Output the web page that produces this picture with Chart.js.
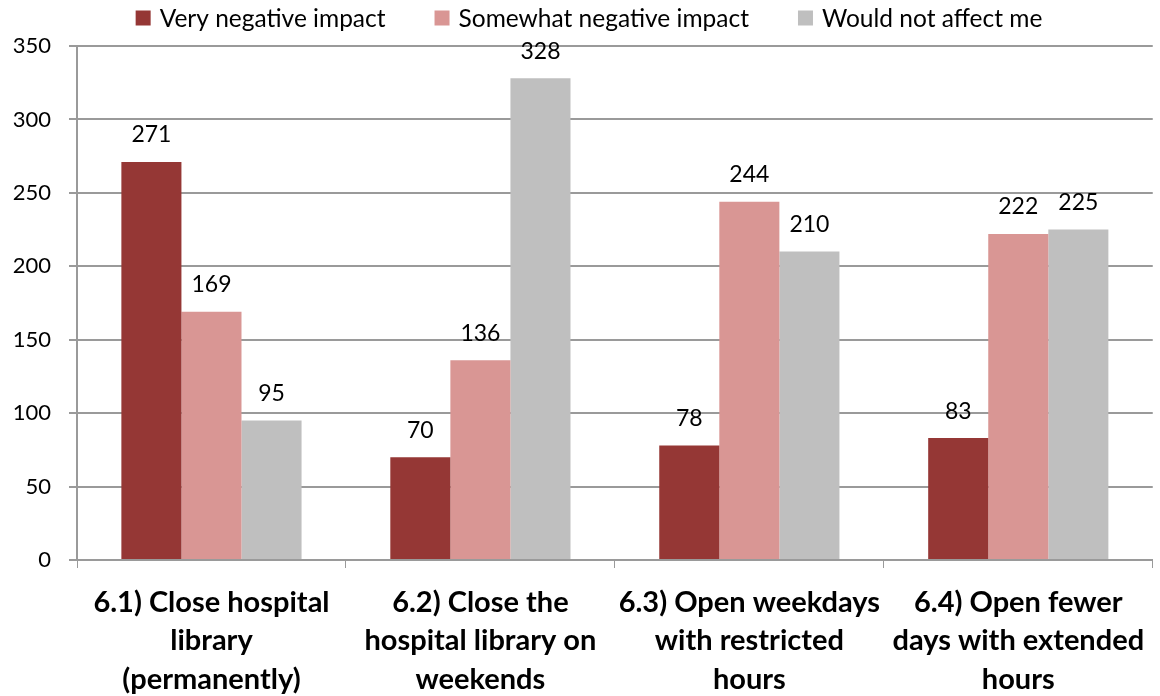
<!DOCTYPE html>
<html>
<head>
<meta charset="utf-8">
<script src="https://cdn.jsdelivr.net/npm/chart.js@4"></script>
<style>
  html, body { margin: 0; padding: 0; background: #fff; }
  #wrap { width: 1160px; height: 696px; }
</style>
</head>
<body>
<div id="wrap"><canvas id="impactChart" width="1160" height="696"></canvas></div>
<script>
/* ─── Data ─────────────────────────────────────── */
const categories = [
  ['6.1) Close hospital', 'library', '(permanently)'],
  ['6.2) Close the', 'hospital library on', 'weekends'],
  ['6.3) Open weekdays', 'with restricted', 'hours'],
  ['6.4) Open fewer', 'days with extended', 'hours']
];
const seriesNames  = ['Very negative impact', 'Somewhat negative impact', 'Would not affect me'];
const veryNegative = [271, 70, 78, 83];
const somewhatNeg  = [169, 136, 244, 222];
const notAffected  = [95, 328, 210, 225];
const yTicks       = [0, 50, 100, 150, 200, 250, 300, 350];

const colors   = ['#953735', '#D99694', '#BFBFBF'];
const gridGray = '#9A9A9A';
const FONT     = "Lato, 'Noto Sans', sans-serif";

/* ─── Value labels above bars ──────────────────── */
const valueLabels = {
  id: 'valueLabels',
  afterDatasetsDraw(chart) {
    const ctx = chart.ctx;
    ctx.save();
    ctx.font = '23px ' + FONT;
    ctx.fillStyle = '#000';
    ctx.textAlign = 'center';
    ctx.textBaseline = 'middle';
    chart.data.datasets.forEach((ds, i) => {
      chart.getDatasetMeta(i).data.forEach((bar, j) => {
        ctx.fillText(ds.data[j], bar.x, bar.y - 27);
      });
    });
    ctx.restore();
  }
};

/* ─── Top legend (spaced like the original) ────── */
const topLegend = {
  id: 'topLegend',
  afterDraw(chart) {
    const ctx = chart.ctx;
    const box = 15, gapText = 9, gapItem = 49, y = 18;
    ctx.save();
    ctx.font = '24.5px ' + FONT;
    ctx.textBaseline = 'middle';
    const widths = chart.data.datasets.map(ds => box + gapText + ctx.measureText(ds.label).width);
    const total  = widths.reduce((a, b) => a + b, 0) + gapItem * (widths.length - 1);
    let x = 589 - total / 2;
    chart.data.datasets.forEach((ds, i) => {
      ctx.fillStyle = ds.backgroundColor;
      ctx.fillRect(x, y - box / 2, box, box);
      ctx.fillStyle = '#000';
      ctx.fillText(ds.label, x + box + gapText, y + 1);
      x += widths[i] + gapItem;
    });
    ctx.restore();
  }
};

/* ─── Chart ────────────────────────────────────── */
new Chart(document.getElementById('impactChart'), {
  type: 'bar',
  data: {
    labels: categories,
    datasets: [veryNegative, somewhatNeg, notAffected].map((d, i) => ({
      label:           seriesNames[i],
      data:            d,
      backgroundColor: colors[i],
      borderWidth:     0,
      categoryPercentage: 0.67,
      barPercentage:   1.0
    }))
  },
  options: {
    responsive: false,
    animation:  false,
    layout: { padding: { left: 0, right: 7, top: 46, bottom: 0 } },
    plugins: {
      legend:  { display: false },
      tooltip: { enabled: false }
    },
    scales: {
      x: {
        grid:   { drawOnChartArea: false, drawTicks: true, tickLength: 8, color: gridGray, offset: true },
        border: { color: gridGray, width: 2 },
        ticks:  { font: { family: FONT, size: 29, weight: 'bold', lineHeight: 1.33 }, color: '#000', padding: 15, maxRotation: 0 },
        afterFit: s => { s.height = 136; }
      },
      y: {
        min: 0, max: 350,
        afterBuildTicks: s => { s.ticks = yTicks.map(v => ({ value: v })); },
        grid:   { color: gridGray, lineWidth: 2, tickLength: 8 },
        border: { color: gridGray, width: 2 },
        ticks:  { font: { family: FONT, size: 22 }, color: '#000', padding: 18 },
        afterFit: s => { s.width = 77; }
      }
    }
  },
  plugins: [valueLabels, topLegend]
});
</script>
</body>
</html>
